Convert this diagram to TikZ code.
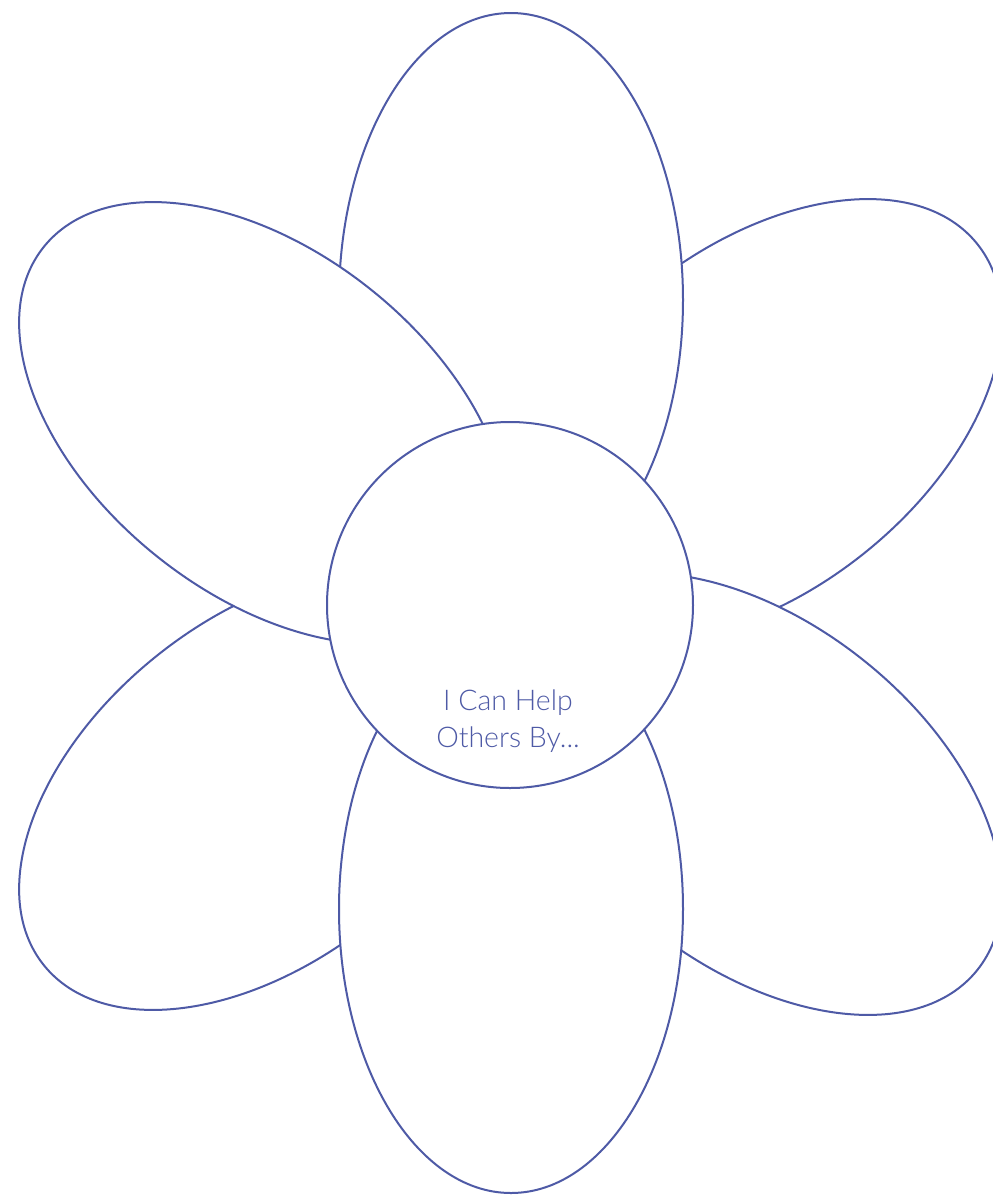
\documentclass[tikz,border=0pt]{standalone}
\usepackage{fontspec}
\newfontfamily\lblfont{Lato}[UprightFont=* Light]
\definecolor{petalblue}{RGB}{78,90,166}
\begin{document}
\begin{tikzpicture}[x=1pt,y=-1pt,
  petal/.style={draw=petalblue,fill=white,line width=2pt},
  label/.style={text=petalblue,font=\lblfont\fontsize{28.5}{37}\selectfont,align=center,inner sep=0pt}]
\useasboundingbox (0,0) rectangle (993,1195);
\clip (0,0) rectangle (993,1195);
% upper-right
\draw[petal,rotate around={38.6:(757,420)}] (757,420) ellipse [x radius=282pt,y radius=171pt];
% lower-right
\draw[petal,rotate around={-38.6:(757,794)}] (757,794) ellipse [x radius=282pt,y radius=171pt];
% lower-left
\draw[petal,rotate around={38.6:(264,789)}] (264,789) ellipse [x radius=282pt,y radius=171pt];
% top
\draw[petal] (511,300) ellipse [x radius=172pt,y radius=287pt];
% bottom
\draw[petal] (511,909) ellipse [x radius=172pt,y radius=284pt];
% upper-left
\draw[petal,rotate around={-38.6:(264,423)}] (264,423) ellipse [x radius=282pt,y radius=171pt];
% centre
\draw[petal] (510,605) circle [radius=183pt];
\node[label,anchor=base] (txt) at (508,747) {I Can Help\\Others By...};
\end{tikzpicture}
\end{document}
